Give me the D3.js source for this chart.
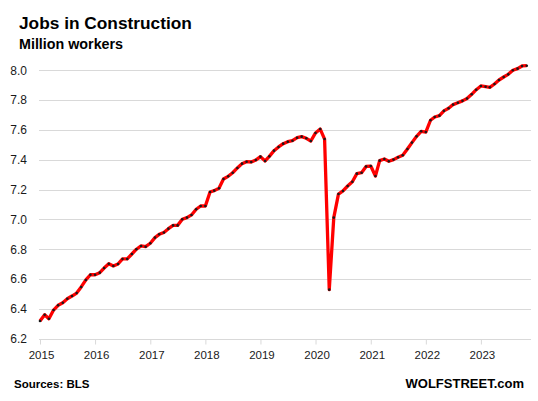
<!DOCTYPE html>
<html>
<head>
<meta charset="utf-8">
<script src="https://cdn.jsdelivr.net/npm/d3@7"></script>
<style>
  html, body { margin: 0; padding: 0; background: #fff; }
  svg { display: block; font-family: "Liberation Sans", Arial, sans-serif; }
</style>
</head>
<body>
<svg id="chart" width="538" height="401"></svg>
<script>
// ---- Data (monthly, million workers) ----
const startYear = 2015;
const values2015 = [6.319, 6.361, 6.334, 6.392, 6.424, 6.441, 6.468, 6.486, 6.506, 6.547, 6.594, 6.629];
const values2016 = [6.629, 6.643, 6.674, 6.703, 6.688, 6.701, 6.735, 6.735, 6.768, 6.800, 6.822, 6.817];
const values2017 = [6.840, 6.878, 6.900, 6.912, 6.938, 6.960, 6.960, 7.001, 7.012, 7.030, 7.068, 7.090];
const values2018 = [7.090, 7.184, 7.193, 7.209, 7.271, 7.289, 7.313, 7.345, 7.374, 7.387, 7.385, 7.398];
const values2019 = [7.421, 7.392, 7.423, 7.461, 7.486, 7.508, 7.521, 7.528, 7.548, 7.555, 7.544, 7.526];
const values2020 = [7.580, 7.606, 7.539, 6.529, 7.012, 7.170, 7.191, 7.224, 7.253, 7.307, 7.313, 7.355];
const values2021 = [7.358, 7.291, 7.394, 7.405, 7.390, 7.401, 7.417, 7.430, 7.472, 7.515, 7.557, 7.591];
const values2022 = [7.586, 7.665, 7.687, 7.696, 7.728, 7.745, 7.770, 7.782, 7.795, 7.811, 7.839, 7.870];
const values2023 = [7.895, 7.890, 7.886, 7.908, 7.935, 7.955, 7.973, 8.000, 8.011, 8.029, 8.031];
const yTicks = [6.2, 6.4, 6.6, 6.8, 7.0, 7.2, 7.4, 7.6, 7.8, 8.0];
const xTickYears = [2015, 2016, 2017, 2018, 2019, 2020, 2021, 2022, 2023];

const series = [values2015, values2016, values2017, values2018, values2019,
                values2020, values2021, values2022, values2023];
const data = [];
series.forEach((arr, yi) => arr.forEach((v, m) => data.push({ date: new Date(startYear + yi, m, 1), value: v })));

// ---- Layout ----
const svg = d3.select("#chart");
const x = d3.scaleTime()
  .domain([new Date(2015, 0, 1), new Date(2023, 10, 29)])
  .range([40, 531]);
const y = d3.scaleLinear().domain([6.2, 8.0]).range([338.7, 70.3]);

// gridlines
svg.append("g").selectAll("line").data(yTicks.slice(1)).join("line")
  .attr("x1", 39).attr("x2", 531)
  .attr("y1", d => Math.round(y(d)) + 0.5).attr("y2", d => Math.round(y(d)) + 0.5)
  .attr("stroke", "#d9d9d9").attr("stroke-width", 1);

// x axis
const xAxis = d3.axisBottom(x)
  .tickValues(xTickYears.map(yr => new Date(yr, 0, 1)))
  .tickFormat(d3.timeFormat("%Y"))
  .tickSize(5).tickPadding(6);
const gx = svg.append("g").attr("transform", `translate(0,${Math.round(y(6.2)) + 0.5})`).call(xAxis);
gx.select(".domain").attr("stroke", "#d9d9d9").attr("d", `M39,0H531`);
gx.selectAll(".tick line").attr("stroke", "#d9d9d9");
gx.selectAll(".tick text").attr("font-size", "11.5px").attr("fill", "#1a1a1a")
  .attr("font-family", "Liberation Sans, Arial, sans-serif").attr("dx", 1);

// y axis labels
const yAxis = d3.axisLeft(y).tickValues(yTicks).tickFormat(d3.format(".1f")).tickSize(0).tickPadding(0);
const gy = svg.append("g").attr("transform", "translate(27,0)").call(yAxis);
gy.select(".domain").remove();
gy.selectAll(".tick text").attr("font-size", "12px").attr("fill", "#1a1a1a")
  .attr("font-family", "Liberation Sans, Arial, sans-serif");

// line
const line = d3.line().x(d => x(d.date)).y(d => y(d.value));
svg.append("path").datum(data)
  .attr("fill", "none").attr("stroke", "#ff0000").attr("stroke-width", 3.3)
  .attr("stroke-linejoin", "round").attr("d", line);

// markers
svg.append("g").selectAll("circle").data(data).join("circle")
  .attr("cx", d => x(d.date)).attr("cy", d => y(d.value)).attr("r", 1.3)
  .attr("fill", "#1a1a1a");

// titles
svg.append("text").attr("x", 19).attr("y", 29).attr("font-size", "17.3px").attr("font-weight", "bold")
  .attr("fill", "#000").text("Jobs in Construction");
svg.append("text").attr("x", 19).attr("y", 49).attr("font-size", "14.3px").attr("font-weight", "bold")
  .attr("fill", "#000").text("Million workers");
svg.append("text").attr("x", 14).attr("y", 388).attr("font-size", "11.5px").attr("font-weight", "bold")
  .attr("fill", "#000").text("Sources: BLS");
svg.append("text").attr("x", 524).attr("y", 388).attr("text-anchor", "end").attr("font-size", "13px")
  .attr("font-weight", "bold").attr("fill", "#000").text("WOLFSTREET.com");
</script>
</body>
</html>
